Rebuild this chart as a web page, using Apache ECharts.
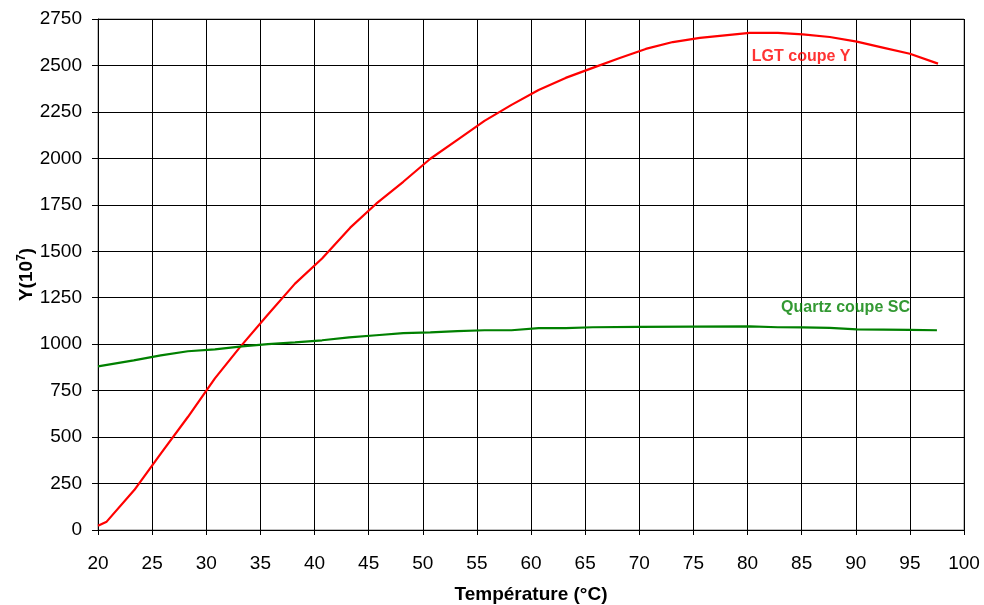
<!DOCTYPE html>
<html>
<head>
<meta charset="utf-8">
<script src="https://cdn.jsdelivr.net/npm/echarts@6/dist/echarts.min.js"></script>
<style>html,body{margin:0;padding:0;background:#fff}#c{width:984px;height:605px}</style>
</head>
<body>
<div id="c"></div>
<script>
var lgtT = [20, 20.8, 23.35, 25.85, 28.3, 30.8, 33.1, 35.7, 38.2, 40.7, 43.3, 45.7, 48.2, 50.7, 53.2, 55.7, 58.2, 60.7, 63.2, 65.7, 68.2, 70.6, 73.1, 75.6, 80.2, 82.8, 85.1, 87.6, 90.1, 92.5, 95, 97.6];
var lgtY = [23, 45, 215, 415, 608, 816, 983, 1160, 1326, 1461, 1627, 1756, 1874, 1998, 2100, 2202, 2288, 2368, 2433, 2487, 2540, 2589, 2626, 2648, 2675, 2675, 2667, 2653, 2628, 2596, 2563, 2510];
var qzT = [20, 23.3, 25.8, 28.3, 30.8, 33.3, 35.7, 38.2, 40.7, 43.2, 45.7, 48.2, 50.7, 53.2, 55.7, 58.2, 60.7, 63.2, 65.7, 70, 75, 80.2, 82.8, 85.1, 87.6, 90.1, 95, 97.5];
var qzY = [881, 913, 940, 962, 972, 988, 1000, 1010, 1021, 1037, 1048, 1059, 1064, 1070, 1075, 1075, 1086, 1086, 1091, 1093, 1095, 1096, 1091, 1090, 1088, 1080, 1077, 1075];
var xTicks = {min: 20, max: 100, interval: 5};
var yTicks = {min: 0, max: 2750, interval: 250};
var labels = [
  {text: 'LGT coupe Y', T: 80.4, Y: 2545, color: '#ff0000'},
  {text: 'Quartz coupe SC', T: 83.1, Y: 1195, color: '#008000'}
];
function pairs(a, b) { return a.map(function (v, i) { return [v, b[i]]; }); }
var font = '"Liberation Sans", Arial, sans-serif';
var chart = echarts.init(document.getElementById('c'));
chart.setOption({
  animation: false,
  grid: {left: 98, right: 20, top: 19, bottom: 75, show: true, borderColor: '#808080', borderWidth: 1,
         containLabel: false, outerBoundsMode: 'none'},
  xAxis: {
    type: 'value', min: xTicks.min, max: xTicks.max, interval: xTicks.interval,
    name: 'Température (°C)', nameLocation: 'middle', nameGap: 55, nameMoveOverlap: false,
    nameTextStyle: {fontFamily: font, fontSize: 19, fontWeight: 'bold', color: '#000'},
    axisLine: {show: true, onZero: false, lineStyle: {color: '#000', width: 1}},
    axisTick: {show: true, length: 5, lineStyle: {color: '#000'}},
    axisLabel: {fontFamily: font, fontSize: 19, color: '#000', margin: 24, formatter: function (v) { return String(v); }},
    splitLine: {show: true, lineStyle: {color: '#000', width: 1}}
  },
  yAxis: {
    type: 'value', min: yTicks.min, max: yTicks.max, interval: yTicks.interval,
    name: '{a|Y(10}{b|7}{a|)}', nameLocation: 'middle', nameGap: 60, nameMoveOverlap: false,
    nameTextStyle: {rich: {
      a: {fontFamily: font, fontSize: 19, fontWeight: 'bold', color: '#000'},
      b: {fontFamily: font, fontSize: 12, fontWeight: 'bold', color: '#000', verticalAlign: 'top', padding: [0, 0, 10, 0]}
    }},
    axisLine: {show: true, lineStyle: {color: '#000', width: 1}},
    axisTick: {show: true, length: 6, lineStyle: {color: '#000'}},
    axisLabel: {fontFamily: font, fontSize: 19, color: '#000', margin: 16, formatter: function (v) { return String(v); }},
    splitLine: {show: true, lineStyle: {color: '#000', width: 1}}
  },
  series: [
    {type: 'line', data: pairs(lgtT, lgtY), showSymbol: false, smooth: false,
     lineStyle: {color: '#ff0000', width: 2.2}, itemStyle: {color: '#ff0000'}},
    {type: 'line', data: pairs(qzT, qzY), showSymbol: false, smooth: false,
     lineStyle: {color: '#008000', width: 2.2}, itemStyle: {color: '#008000'}},
    {type: 'scatter', symbolSize: 0, silent: true,
     data: labels.map(function (l) {
       return {value: [l.T, l.Y], label: {show: true, position: 'right', distance: 0, formatter: l.text,
         fontFamily: font, fontSize: 16, fontWeight: 'bold', color: l.color}};
     })}
  ]
});
</script>
</body>
</html>
